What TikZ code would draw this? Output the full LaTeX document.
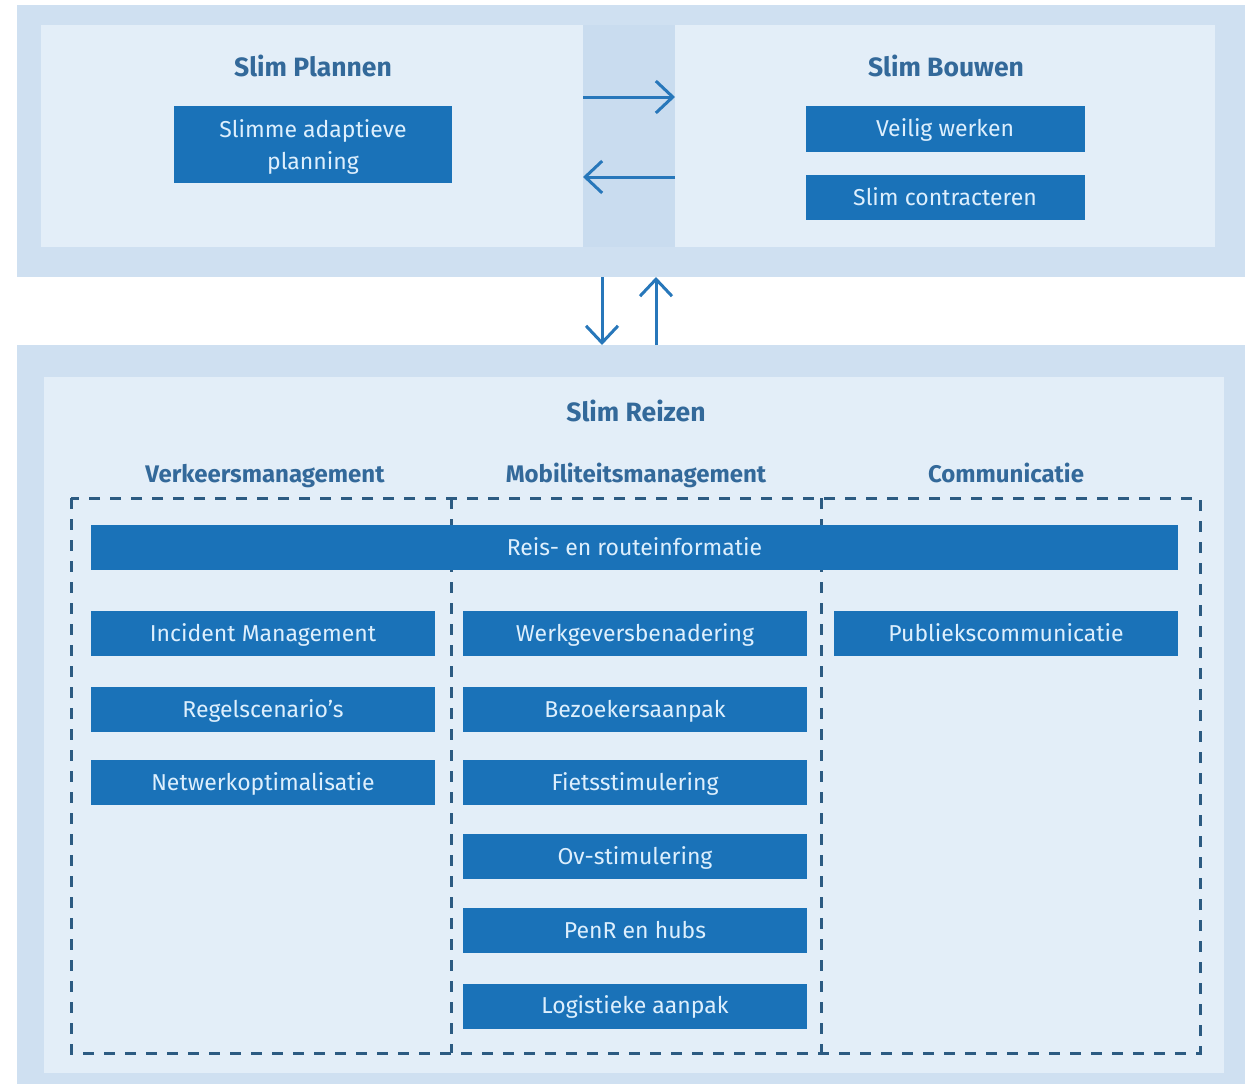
\documentclass[tikz,border=0pt]{standalone}
\usepackage{fontspec}
\setmainfont{Fira Sans}
\usetikzlibrary{arrows.meta}
\definecolor{band}{HTML}{CFE0F1}
\definecolor{panel}{HTML}{E3EEF8}
\definecolor{strip}{HTML}{C9DCEF}
\definecolor{boxblue}{HTML}{1A72B8}
\definecolor{boxtext}{HTML}{DDEFFD}
\definecolor{titleblue}{HTML}{33699A}
\definecolor{arrowblue}{HTML}{2777BA}
\definecolor{dashblue}{HTML}{2C5B82}
\begin{document}
\begin{tikzpicture}[x=1pt,y=-1pt,
  bluebox/.style={fill=boxblue, text=boxtext, font=\fontsize{23}{32}\selectfont, inner sep=0pt, align=center, minimum height=45pt, text height=16pt, text depth=1pt},
  colbox/.style={bluebox, minimum width=344pt},
  titletext/.style={text=titleblue, font=\fontsize{26.5}{30}\selectfont\bfseries, inner sep=0pt, text height=19pt, text depth=0pt},
  headtext/.style={titletext, font=\fontsize{24}{28}\selectfont\bfseries, text height=17pt, text depth=0pt},
  arr/.style={draw=arrowblue, line width=3pt, -{Straight Barb[length=17pt,width=32pt]}},
  dashline/.style={draw=dashblue, line width=3pt, dash pattern=on 11pt off 10pt},
  area/.style={inner sep=0pt, outer sep=0pt}]

\useasboundingbox (0,0) rectangle (1245,1084);
\fill[white] (0,0) rectangle (1245,1084);

% top band
\node[area, fill=band, minimum width=1228pt, minimum height=272pt] (tb) at (631,141) {};
\fill[strip] (583,25) rectangle (675,247);
\node[area, fill=panel, minimum width=542pt, minimum height=222pt] (lp) at (312,136) {};
\node[area, fill=panel, minimum width=540pt, minimum height=222pt] (rp) at (945,136) {};

\node[titletext] (tplan) at (313,67) {Slim Plannen};
\node[titletext] (tbouw) at (946,67) {Slim Bouwen};
\node[area, fill=boxblue, minimum width=278pt, minimum height=77pt] (sap) at (313,144.5) {};
\node[text=boxtext, font=\fontsize{23}{32}\selectfont, inner sep=0pt, align=center, yshift=-2pt] (sapt) at (sap.center) {Slimme adaptieve\\planning};
\node[bluebox, minimum width=279pt, minimum height=46pt] (vw) at (945,128.5) {Veilig werken};
\node[bluebox, minimum width=279pt] (sc) at (945,197.5) {Slim contracteren};

\coordinate (a1) at (0,97);
\coordinate (a2) at (0,177);
\draw[arr] (lp.east |- a1) -- (rp.west |- a1);
\draw[arr] (rp.west |- a2) -- (lp.east |- a2);

% bottom band
\node[area, fill=band, minimum width=1228pt, minimum height=739pt] (bb) at (631,714.5) {};
\node[area, fill=panel, minimum width=1180pt, minimum height=696pt] (ip) at (634,725) {};

\coordinate (v1) at (602,0);
\coordinate (v2) at (656,0);
\draw[arr] (tb.south -| v1) -- (bb.north -| v1);
\draw[arr] (bb.north -| v2) -- (tb.south -| v2);

\node[titletext] (treis) at (636,412) {Slim Reizen};
\node[headtext] (hv) at (265,474) {Verkeersmanagement};
\node[headtext] (hm) at (636,474) {Mobiliteitsmanagement};
\node[headtext] (hc) at (1006,474) {Communicatie};

% dashed frame
\draw[dashline] (71,498) rectangle (1200,1053);
\draw[dashline] (451,498) -- (451,1053);
\draw[dashline] (821,498) -- (821,1053);

\node[bluebox, minimum width=1087pt] (reis) at (634.5,547.5) {Reis- en routeinformatie};

\node[colbox] (im) at (263,633.5) {Incident Management};
\node[colbox] (rs) at (263,709.5) {Regelscenario’s};
\node[colbox] (no) at (263,782.5) {Netwerkoptimalisatie};

\node[colbox] (wg) at (635,633.5) {Werkgeversbenadering};
\node[colbox] (ba) at (635,709.5) {Bezoekersaanpak};
\node[colbox] (fs) at (635,782.5) {Fietsstimulering};
\node[colbox] (ov) at (635,856.5) {Ov-stimulering};
\node[colbox] (pr) at (635,930.5) {PenR en hubs};
\node[colbox] (la) at (635,1006) {Logistieke aanpak};

\node[colbox] (pc) at (1006,633.5) {Publiekscommunicatie};
\end{tikzpicture}
\end{document}
